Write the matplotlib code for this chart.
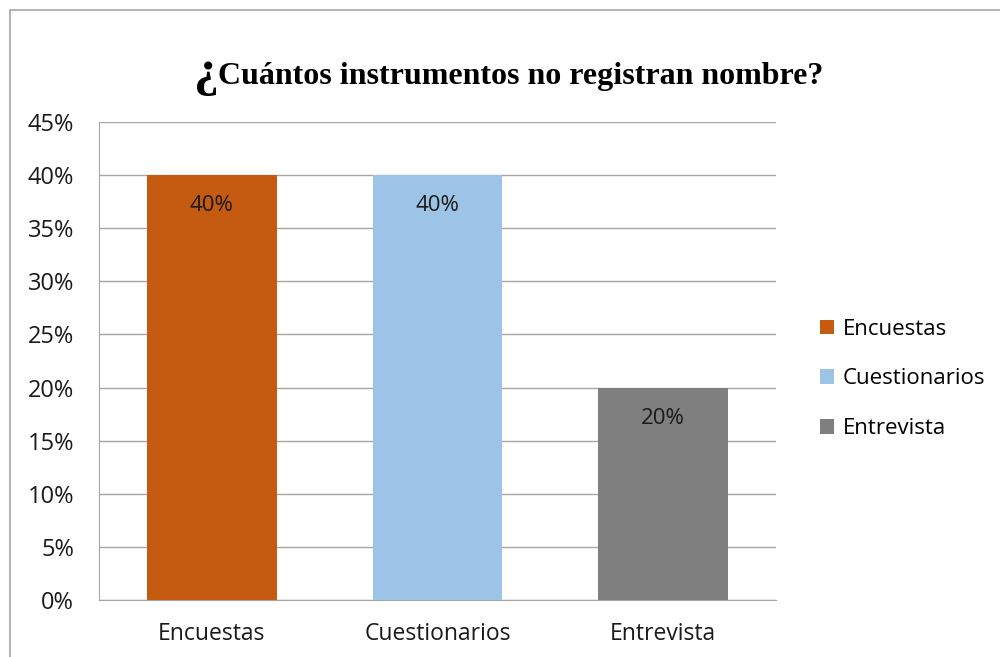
import matplotlib.pyplot as plt
from matplotlib.patches import Rectangle
from matplotlib.ticker import FuncFormatter, MultipleLocator

categories = ["Encuestas", "Cuestionarios", "Entrevista"]
values = [0.40, 0.40, 0.20]
colors = ["#C55A11", "#9DC3E6", "#7F7F7F"]
bar_labels = ["40%", "40%", "20%"]

plt.rcParams["font.family"] = ["Open Sans", "DejaVu Sans"]

fig = plt.figure(figsize=(10, 6.57), dpi=100)
ax = fig.add_axes([0.099, 1 - 600 / 657, 0.677, 478 / 657])

bars = ax.bar(range(3), values, width=0.576, color=colors, label=categories, zorder=3)
for b, lab in zip(bars, bar_labels):
    ax.text(b.get_x() + b.get_width() / 2, b.get_height() - 0.029, lab,
            ha="center", va="center", fontsize=16, color="#1a1a1a", zorder=4)

ax.set_xlim(-0.5, 2.5)
ax.set_ylim(0, 0.45)
ax.yaxis.set_major_locator(MultipleLocator(0.05))
ax.yaxis.set_major_formatter(FuncFormatter(lambda v, p: f"{round(v * 100)}%"))
ax.set_xticks(range(3))
ax.set_xticklabels(categories)
ax.tick_params(axis="both", length=0, colors="#1a1a1a")
ax.tick_params(axis="x", pad=16, labelsize=16.5)
ax.tick_params(axis="y", pad=18, labelsize=17)
ax.grid(axis="y", color="#A6A6A6", linewidth=1, zorder=0)
for s in ["top", "right"]:
    ax.spines[s].set_visible(False)
ax.spines["left"].set_color("#A6A6A6")
ax.spines["bottom"].set_color("#A6A6A6")

fig.text(0.194, 1 - 85 / 657, "¿", fontsize=36, fontweight="bold",
         family="Liberation Serif", ha="left", va="baseline")
fig.text(0.218, 1 - 84 / 657, "Cuántos instrumentos no registran nombre?", fontsize=23,
         fontweight="bold", family="Liberation Serif", ha="left", va="baseline")

leg = fig.legend(handles=bars, labels=categories, loc="center left",
                 bbox_to_anchor=(0.80, 1 - 379 / 657), frameon=False, fontsize=16,
                 handlelength=0.62, handleheight=0.62, handletextpad=0.4,
                 labelspacing=1.3)

fig.patches.append(Rectangle((0.01, -0.1), 1.2, 1.1 - 10 / 657, transform=fig.transFigure,
                             fill=False, edgecolor="#A6A6A6", linewidth=1.2))

fig.savefig("out.png", dpi=100)
